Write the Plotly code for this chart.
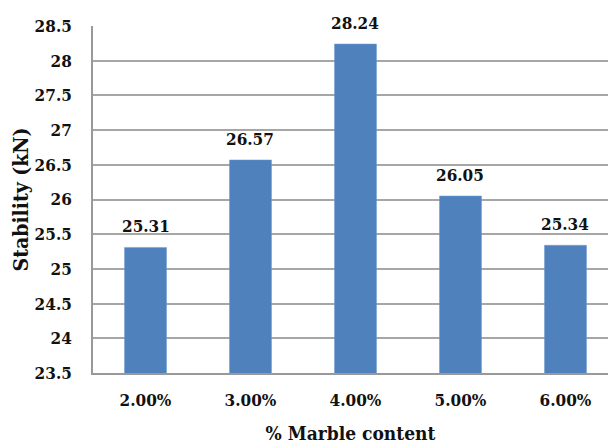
import plotly.graph_objects as go

categories = ["2.00%", "3.00%", "4.00%", "5.00%", "6.00%"]
stability = [25.31, 26.57, 28.24, 26.05, 25.34]
y_ticks = [23.5, 24, 24.5, 25, 25.5, 26, 26.5, 27, 27.5, 28, 28.5]
y_tick_text = ["23.5", "24", "24.5", "25", "25.5", "26", "26.5", "27", "27.5", "28", "28.5"]

font_family = "DejaVu Serif Condensed"
ink = "#111111"

fig = go.Figure(
    go.Bar(
        x=list(range(len(categories))),
        y=stability,
        base=0,
        width=0.4,
        marker=dict(color="#4F81BD", line=dict(color="#6f9ad0", width=0.5)),
        cliponaxis=False,
    )
)

# value labels sitting above each bar
for i, v in enumerate(stability):
    fig.add_annotation(
        x=i, y=v, text=f"<b>{v:.2f}</b>", showarrow=False,
        yanchor="bottom", yshift=9,
        font=dict(family=font_family, size=17, color=ink),
    )

fig.update_layout(
    width=608,
    height=448,
    margin=dict(l=93, r=0, t=26, b=75),
    paper_bgcolor="white",
    plot_bgcolor="white",
    showlegend=False,
    font=dict(family=font_family, size=17, color=ink),
    xaxis=dict(
        tickmode="array",
        tickvals=list(range(len(categories))),
        ticktext=[f"<b>{c}</b>" for c in categories],
        range=[-0.5, 4.405],
        showgrid=False,
        showline=True,
        linecolor="#999999",
        linewidth=1.5,
        ticks="",
        ticklabelstandoff=11,
        tickfont=dict(family=font_family, size=17, color=ink),
        title=dict(text="<b>% Marble content</b>", font=dict(family=font_family, size=19, color=ink), standoff=18),
    ),
    yaxis=dict(
        range=[23.5, 28.5],
        tickmode="array",
        tickvals=y_ticks,
        ticktext=[f"<b>{t}</b>" for t in y_tick_text],
        showgrid=True,
        gridcolor="#a6a6a6",
        gridwidth=1.5,
        showline=True,
        linecolor="#999999",
        linewidth=1.5,
        ticks="",
        ticklabelstandoff=16,
        zeroline=False,
        tickfont=dict(family=font_family, size=17, color=ink),
        title=dict(text="<b>Stability (kN)</b>", font=dict(family=font_family, size=21, color=ink), standoff=0),
    ),
)

fig.write_html("out.html")
